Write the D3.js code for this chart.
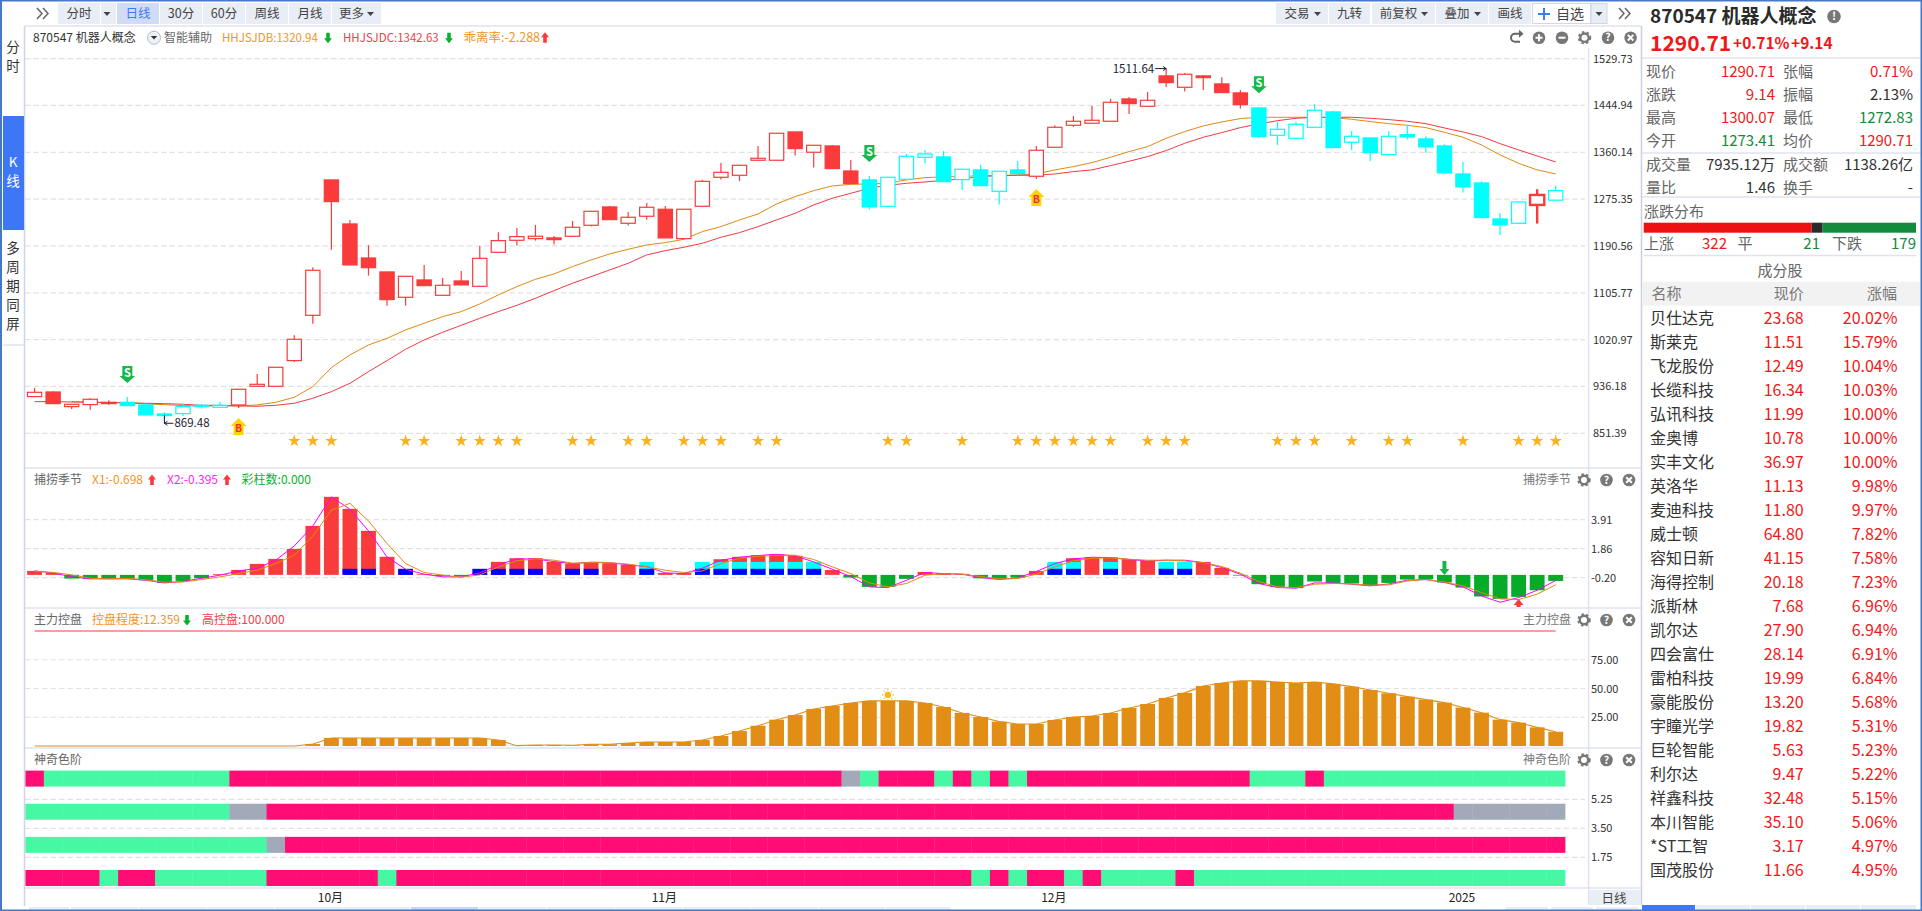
<!DOCTYPE html>
<html>
<head>
<meta charset="utf-8">
<script src="https://cdn.jsdelivr.net/npm/d3@7"></script>
<style>
html,body{margin:0;padding:0;background:#fff;overflow:hidden}
svg{display:block}
text{font-family:"Noto Sans CJK SC","Noto Sans",sans-serif}
</style>
</head>
<body>
<div id="chart"></div>
<script>
// K line data, index 0..82
const opens = [917.8,926.2,899.7,903.3,907.5,907.5,902.7,886.4,887.0,902.1,898.5,902.7,936.5,936.5,983.0,1065.0,1310.1,1230.4,1168.8,1143.5,1097.6,1129.0,1101.2,1127.2,1117.5,1179.1,1200.8,1203.8,1205.1,1208.1,1228.0,1261.2,1231.6,1244.3,1257.0,1203.8,1262.4,1314.9,1318.5,1345.7,1345.7,1397.0,1360.2,1371.6,1326.3,1310.1,1262.4,1311.3,1351.1,1351.7,1310.7,1328.2,1289.5,1328.2,1316.7,1369.2,1409.0,1412.7,1416.3,1456.7,1443.4,1498.4,1477.8,1498.4,1483.9,1467.6,1440.4,1390.9,1385.5,1405.4,1433.2,1378.3,1386.1,1355.9,1392.1,1384.3,1371.6,1320.9,1304.6,1239.4,1231.6,1264.8,1273.41]
const closes = [925.6,905.1,903.9,913.0,905.1,901.5,884.6,883.4,899.7,899.7,902.1,931.1,940.1,970.9,1021.6,1146.5,1270.8,1156.2,1151.3,1093.4,1135.6,1118.7,1119.4,1120.0,1168.2,1200.2,1207.5,1208.1,1202.0,1224.4,1253.3,1238.2,1242.5,1260.6,1205.1,1257.0,1307.6,1323.9,1336.6,1349.3,1394.6,1366.8,1372.8,1330.6,1303.4,1261.2,1314.9,1352.9,1357.1,1307.0,1329.4,1299.8,1325.8,1321.5,1363.8,1405.4,1416.3,1418.1,1450.7,1448.3,1454.3,1486.3,1501.4,1495.3,1468.2,1446.4,1388.5,1401.8,1410.8,1436.2,1368.6,1389.1,1359.5,1389.1,1387.9,1369.8,1322.7,1297.4,1241.9,1228.6,1270.2,1282.9,1290.71]
const highs = [933.5,927.4,903.9,914.8,911.1,917.2,905.7,889.4,904.5,904.5,908.1,931.1,958.8,970.9,1028.8,1151.9,1310.1,1237.6,1191.8,1143.5,1135.6,1156.2,1132.6,1145.3,1190.6,1215.3,1223.2,1228.6,1208.7,1235.8,1253.3,1263.0,1252.1,1268.4,1263.0,1257.0,1310.1,1340.8,1336.6,1371.6,1394.6,1397.0,1372.8,1373.4,1346.3,1317.3,1314.9,1357.1,1364.4,1362.6,1329.4,1337.2,1325.8,1344.4,1371.6,1409.0,1425.9,1444.0,1456.7,1460.3,1469.4,1511.64,1503.8,1500.2,1495.9,1473.0,1441.6,1415.1,1415.1,1447.7,1435.0,1398.8,1386.1,1398.8,1409.0,1388.5,1374.6,1342.6,1307.6,1249.7,1270.2,1293.2,1300.07]
const lows = [917.8,905.1,895.5,894.2,903.3,901.5,884.6,869.48,882.8,896.1,897.3,897.3,936.5,936.5,980.5,1049.9,1183.9,1156.2,1136.9,1082.5,1082.5,1118.7,1101.2,1120.0,1117.5,1179.1,1191.2,1200.2,1193.0,1208.1,1225.6,1238.2,1227.4,1238.2,1205.1,1203.8,1262.4,1310.7,1308.2,1345.7,1345.7,1354.1,1332.4,1330.6,1303.4,1256.4,1262.4,1311.3,1339.6,1307.0,1292.0,1299.8,1265.4,1321.5,1311.9,1369.2,1406.0,1412.7,1416.3,1429.5,1443.4,1478.4,1470.0,1473.0,1468.2,1439.2,1386.7,1373.4,1385.5,1405.4,1368.6,1364.4,1344.4,1355.9,1383.1,1358.9,1322.7,1287.1,1241.9,1210.5,1231.6,1231.0,1272.83]
const maDB = [null,null,908.7,908.1,906.9,906.3,904.5,903.3,901.5,900.9,900.9,900.9,902.7,907.5,916.6,935.9,970.3,993.2,1011.3,1023.4,1038.5,1050.6,1062.6,1071.7,1085.6,1101.9,1116.9,1130.2,1139.9,1153.2,1165.2,1176.1,1184.5,1192.4,1196.6,1202.6,1216.5,1225.6,1237.6,1248.5,1266.6,1279.9,1290.7,1299.2,1302.2,1302.8,1304.0,1310.1,1314.3,1315.5,1316.1,1317.9,1317.9,1319.1,1320.9,1328.2,1334.2,1341.4,1351.1,1361.4,1370.4,1385.5,1397.6,1407.8,1415.1,1421.1,1423.5,1423.5,1423.5,1423.5,1422.9,1419.9,1415.7,1412.0,1409.0,1404.8,1396.4,1387.3,1373.4,1355.3,1340.2,1328.2,1320.94]
const maDC = [908.7,908.7,908.1,907.5,906.9,906.9,905.7,905.1,903.9,902.1,902.1,900.9,900.3,902.1,905.7,914.8,926.8,941.9,963.0,983.0,1003.5,1020.4,1034.3,1046.9,1059.6,1071.7,1083.1,1095.8,1109.7,1123.0,1135.0,1147.1,1159.2,1174.3,1182.1,1188.2,1195.4,1206.3,1214.7,1225.6,1237.6,1249.7,1264.8,1276.9,1285.9,1295.0,1300.4,1304.0,1306.4,1309.4,1311.9,1316.1,1317.9,1318.5,1318.5,1320.9,1325.1,1328.2,1336.0,1343.9,1352.3,1363.2,1376.4,1387.3,1395.8,1404.8,1411.4,1417.4,1421.7,1423.5,1423.5,1423.5,1421.7,1419.3,1416.3,1412.0,1404.2,1397.0,1388.5,1375.8,1364.4,1353.5,1342.63]
// [red?, run length]
const trendRuns = [[1,5],[0,6],[1,34],[0,9],[1,12],[0,15],[1,1],[0,1]]
const selectedIdx = 81
const starIdx = [14,15,16,20,21,23,24,25,26,29,30,32,33,35,36,37,39,40,46,47,50,53,54,55,56,57,58,60,61,62,67,68,69,71,73,74,77,80,81,82]
const sellIdx = [5,45,66]
const buyIdx = [11,54]
const lowIdx = 7
const highIdx = 61
const priceTicks = [1529.73,1444.94,1360.14,1275.35,1190.56,1105.77,1020.97,936.18,851.39]

// 捕捞季节
const seasonBars = [.28,.14,-.26,-.28,-.28,-.26,-.38,-.57,-.43,-.24,.05,.35,.78,1.13,1.84,3.47,5.53,4.68,3.12,1.28,.28,.05,-.09,-.09,.14,.92,1.18,1.18,.92,.80,.87,.83,.71,.59,.14,.14,.47,1.11,1.28,1.39,1.46,1.35,.92,.35,-.19,-.85,-.85,-.28,.21,.12,.07,-.24,-.28,-.19,.28,.80,1.18,1.23,1.23,1.11,.99,.92,.92,.92,.50,-.05,-.66,-.85,-.94,-.47,-.57,-.61,-.76,-.57,-.33,-.31,-.54,-.90,-1.53,-1.70,-1.56,-1.09,-.43]
const seasonX1 = [.26,.17,0,-.24,-.28,-.24,-.35,-.52,-.50,-.33,-.14,.09,.33,.80,1.39,2.76,4.58,5.07,3.82,2.22,.80,.17,-.02,-.17,0,.57,1.01,1.13,1.04,.83,.87,.87,.76,.57,.33,.17,.28,.80,1.18,1.32,1.39,1.39,1.09,.57,.09,-.57,-.85,-.61,-.02,.09,.05,-.12,-.28,-.26,.05,.57,.99,1.18,1.20,1.11,1.04,1.04,.99,.87,.59,.12,-.47,-.85,-.90,-.66,-.61,-.64,-.73,-.71,-.43,-.33,-.50,-.78,-1.25,-1.70,-1.75,-1.37,-.698]
const seasonX2 = [.28,.14,-.14,-.28,-.28,-.28,-.38,-.57,-.47,-.24,-.02,.28,.47,1.04,2.05,3.47,5.53,4.65,3.12,1.27,.40,.05,-.14,-.14,.14,.71,1.13,1.13,.94,.80,.90,.87,.71,.59,.14,.09,.47,1.04,1.25,1.37,1.46,1.35,.92,.40,-.12,-.85,-.90,-.38,.17,.09,.05,-.19,-.33,-.21,.24,.80,1.13,1.25,1.23,1.09,.99,1.04,1.04,.87,.52,.05,-.61,-.90,-.94,-.57,-.57,-.66,-.78,-.64,-.38,-.33,-.54,-.85,-1.49,-1.94,-1.61,-1.09,-.395]
const blueIdx = [17,18,20,24,25,26,27,29,30,33,36,37,38,39,40,41,42,55,56,58,61,62]
const cyanIdx = [33,36,37,38,39,40,41,42,55,56,58,61,62]
const blueLevel = .43
const cyanLevel = .92
const seasonTicks = [3.91,1.86,-.20]

// 主力控盘
const controlBars = [0,0,0,0,0,0,0,0,0,0,0,0,0,0,0,1.7,7,7,7,7,7,7,7,7,7,5.2,.3,.9,.9,.6,1.5,1.5,2.6,3.5,3.5,3.5,5.2,8.7,13,17.6,22.9,26.9,32.2,34.8,37.4,39.2,39.2,39.2,37.4,33.9,28.7,25.2,21.2,19.1,19.1,22.6,25.2,26.1,28.7,33.1,36.5,41.8,46.2,52.2,54.8,56.6,56.6,55.7,54.8,55.7,54,51.6,48.7,45.8,42.9,40.3,37.7,33.4,29,22.9,20.3,16.2,12.359]
const highControl = 100
const controlTicks = [75,50,25]
const sunIdx = 46
const seasonSellIdx = 76
const seasonBuyIdx = 80

// 神奇色阶, [state, run length]: 1 pink, 0 mint, 2 grey
const stepRows = [
  {level:6.5, runs:[[1,1],[0,10],[1,33],[2,1],[0,1],[1,3],[0,1],[1,1],[0,1],[1,1],[0,1],[1,12],[0,3],[1,1],[0,13]]},
  {level:4.5, runs:[[0,11],[2,2],[1,64],[2,6]]},
  {level:2.5, runs:[[0,13],[2,1],[1,69]]},
  {level:.5, runs:[[1,4],[0,1],[1,2],[0,6],[1,6],[0,1],[1,31],[0,1],[1,1],[0,1],[1,2],[0,1],[1,1],[0,4],[1,1],[0,20]]}
]
const stepTicks = [5.25,3.50,1.75]
const timeLabels = [[16,"10月"],[34,"11月"],[55,"12月"],[77,"2025"]]

// side panel
const quoteRows = [
  ["现价","1290.71","up","张幅","0.71%","up",71.7],
  ["涨跌","9.14","up","振幅","2.13%","flat",94.7],
  ["最高","1300.07","up","最低","1272.83","down",117.7],
  ["今开","1273.41","down","均价","1290.71","up",140.7],
  ["成交量","7935.12万","flat","成交额","1138.26亿","flat",164.7],
  ["量比","1.46","flat","换手","-","flat",188]
]
const breadthCounts = [322,21,179]
const stockNames = ["贝仕达克","斯莱克","飞龙股份","长缆科技","弘讯科技","金奥博","实丰文化","英洛华","麦迪科技","威士顿","容知日新","海得控制","派斯林","凯尔达","四会富仕","雷柏科技","豪能股份","宇瞳光学","巨轮智能","利尔达","祥鑫科技","本川智能","*ST工智","国茂股份"]
const stockPrices = ["23.68","11.51","12.49","16.34","11.99","10.78","36.97","11.13","11.80","64.80","41.15","20.18","7.68","27.90","28.14","19.99","13.20","19.82","5.63","9.47","32.48","35.10","3.17","11.66"]
const stockChanges = ["20.02%","15.79%","10.04%","10.03%","10.00%","10.00%","10.00%","9.98%","9.97%","7.82%","7.58%","7.23%","6.96%","6.94%","6.91%","6.84%","5.68%","5.31%","5.23%","5.22%","5.15%","5.06%","4.97%","4.95%"]

const W = 1922, H = 911
const red = "#f93b3b", cyan = "#00ffff", lineCol = "#dfe3ee"
const txtCol = {up:"#f01818",down:"#128a3c",flat:"#333"}

const svg = d3.select("#chart").append("svg").attr("width",W).attr("height",H)

function label(g,x,y,s,size,fill,anchor,weight){
  return g.append("text").attr("x",x).attr("y",y).attr("dy","0.36em")
    .attr("font-size",size).attr("fill",fill)
    .attr("text-anchor",anchor||"start").attr("font-weight",weight||400).text(s)
}
function expand(runs){
  const out = []
  runs.forEach(r => { for(let i=0;i<r[1];i++) out.push(r[0]) })
  return out
}
function smallArrow(g,x,y,up,col){
  const s = up?1:-1
  g.append("path").attr("fill",col)
    .attr("d",`M${x},${y-5.5*s} L${x+4},${y-0.5*s} L${x+1.8},${y-0.5*s} L${x+1.8},${y+5*s} L${x-1.8},${y+5*s} L${x-1.8},${y-0.5*s} L${x-4},${y-0.5*s}Z`)
}
function hline(x1,x2,y,col,w){
  svg.append("line").attr("x1",x1).attr("x2",x2).attr("y1",y).attr("y2",y)
    .attr("stroke",col||lineCol).attr("stroke-width",w||1.5)
}
function vline(x,y1,y2,col,w){
  svg.append("line").attr("x1",x).attr("x2",x).attr("y1",y1).attr("y2",y2)
    .attr("stroke",col||lineCol).attr("stroke-width",w||1.5)
}
function iconSet(g,xs,y,kinds){
  kinds.forEach((k,i) => {
    const c = g.append("g").attr("transform",`translate(${xs[i]},${y})`)
    if(k==="back"){
      c.append("path").attr("fill","none").attr("stroke","#666").attr("stroke-width",2)
       .attr("d","M5,-4 H-1 A3.5,3.5 0 0 0 -1,4 H4")
      c.append("path").attr("fill","#666").attr("d","M3,-8 L7.5,-4 L3,0Z")
      return
    }
    if(k==="gear"){
      c.append("circle").attr("r",4.2).attr("fill","none").attr("stroke","#777").attr("stroke-width",2.4)
      c.append("circle").attr("r",5.8).attr("fill","none").attr("stroke","#777").attr("stroke-width",1.8).attr("stroke-dasharray","2.4 2.4")
      return
    }
    c.append("circle").attr("r",6.3).attr("fill","#777")
    const t = {plus:"M-3.5,0H3.5M0,-3.5V3.5",minus:"M-3.5,0H3.5",close:"M-2.8,-2.8L2.8,2.8M2.8,-2.8L-2.8,2.8"}[k]
    if(t) c.append("path").attr("d",t).attr("stroke","#fff").attr("stroke-width",2)
    if(k==="help") label(c,0,0,"?",10.5,"#fff","middle",700)
  })
}

// shared x scale, one band per trading day
const days = d3.range(opens.length)
const xBand = d3.scaleBand().domain(days).range([25.3,1565]).paddingInner(0.2).paddingOuter(0.1)
const cx = i => xBand(i) + xBand.bandwidth()/2
const cellX = d3.scaleLinear().domain([0,days.length]).range([25.3,1565])

const yPrice = d3.scaleLinear().domain([851.39,1529.73]).range([433.3,58.6])
const ySeason = d3.scaleLinear().domain([-.20,3.91]).range([577.7,519.7])
const yControl = d3.scaleLinear().domain([0,100]).range([746,631])
const yStep = d3.scaleLinear().domain([1.75,5.25]).range([857.3,799.3])

function grid(scale,ticks){
  svg.append("g").selectAll("line").data(ticks).join("line")
    .attr("x1",25).attr("x2",1585)
    .attr("y1",d=>scale(d)).attr("y2",d=>scale(d))
    .attr("stroke","#e2e2e2").attr("stroke-width",1.2).attr("stroke-dasharray","5.5 3")
}
function rightAxis(scale,ticks,x){
  const g = svg.append("g").attr("transform",`translate(${x},0)`)
    .call(d3.axisRight(scale).tickValues(ticks).tickSize(0).tickPadding(0).tickFormat(d=>d.toFixed(2)))
  g.select(".domain").remove()
  g.selectAll("text").attr("font-size",11).attr("fill","#333").attr("font-family",'"Noto Sans CJK SC"')
}
grid(yPrice,priceTicks); grid(ySeason,seasonTicks); grid(yControl,controlTicks); grid(yStep,stepTicks)
rightAxis(yPrice,priceTicks,1593)
rightAxis(ySeason,seasonTicks,1591)
rightAxis(yControl,controlTicks,1591)
rightAxis(yStep,stepTicks,1591)

// moving average lines
const lineFor = y => d3.line().defined(d=>d!==null).x((d,i)=>cx(i)).y(d=>y(d))
svg.append("path").datum(maDB).attr("d",lineFor(yPrice)).attr("fill","none").attr("stroke","#e08a12").attr("stroke-width",1)
svg.append("path").datum(maDC).attr("d",lineFor(yPrice)).attr("fill","none").attr("stroke","#f03a45").attr("stroke-width",1)

// candles
const trend = expand(trendRuns)
const candle = svg.append("g").selectAll("g").data(days).join("g")
const candleCol = i => trend[i] ? red : cyan
const strokeW = i => i===selectedIdx ? 2.4 : 1.2
candle.append("line")
  .attr("x1",cx).attr("x2",cx).attr("y1",i=>yPrice(highs[i])).attr("y2",i=>yPrice(lows[i]))
  .attr("stroke",candleCol).attr("stroke-width",strokeW)
candle.append("rect")
  .attr("x",i=>xBand(i)+0.3).attr("width",xBand.bandwidth()-0.6)
  .attr("y",i=>yPrice(Math.max(opens[i],closes[i])))
  .attr("height",i=>Math.max(1,Math.abs(yPrice(opens[i])-yPrice(closes[i]))))
  .attr("fill",i=>closes[i]>=opens[i] ? "#fff" : candleCol(i))
  .attr("stroke",candleCol).attr("stroke-width",strokeW)

// buy / sell marks
sellIdx.forEach(i => {
  const g = svg.append("g").attr("transform",`translate(${cx(i)},${yPrice(highs[i])-14})`)
  g.append("path").attr("fill","#14b84c").attr("d","M0,0 L-7.8,-7 L-5,-7 L-5,-17 L5,-17 L5,-7 L7.8,-7Z")
  label(g,0,-10,"S",11,"#fff","middle",700)
})
buyIdx.forEach(i => {
  const g = svg.append("g").attr("transform",`translate(${cx(i)},${yPrice(lows[i])+10})`)
  g.append("path").attr("fill","#ffd400").attr("d","M0,0 L-8,8 L-5,8 L-5,17 L5,17 L5,8 L8,8Z")
  label(g,0,10,"B",10.5,"#f03030","middle",700)
})

// extreme price labels
const lowY = yPrice(lows[lowIdx]), highY = yPrice(highs[highIdx])
svg.append("path").attr("fill","none").attr("stroke","#223").attr("d",`M${cx(lowIdx)},${lowY-8} V${lowY} H${cx(lowIdx)+9} M${cx(lowIdx)+3},${lowY-2} L${cx(lowIdx)},${lowY} L${cx(lowIdx)+3},${lowY+2}`)
label(svg,cx(lowIdx)+10,lowY,lows[lowIdx].toFixed(2),11.5,"#223")
svg.append("path").attr("fill","none").attr("stroke","#223").attr("d",`M${cx(highIdx)-11},${highY} H${cx(highIdx)} M${cx(highIdx)-3},${highY-2} L${cx(highIdx)},${highY} L${cx(highIdx)-3},${highY+2}`)
label(svg,cx(highIdx)-12,highY,highs[highIdx].toFixed(2),11.5,"#223","end")

// stars
const starPath = d3.symbol().type(d3.symbolStar).size(46)()
svg.append("g").selectAll("path").data(starIdx).join("path")
  .attr("d",starPath).attr("fill","#fbb117")
  .attr("transform",i=>`translate(${cx(i)},441)`)

// season panel bars
const seasonG = svg.append("g")
seasonG.selectAll("rect.base").data(days).join("rect").attr("class","base")
  .attr("x",i=>xBand(i)).attr("width",xBand.bandwidth())
  .attr("y",i=>Math.min(ySeason(seasonBars[i]),ySeason(0)))
  .attr("height",i=>Math.abs(ySeason(seasonBars[i])-ySeason(0)))
  .attr("fill",i=>seasonBars[i]>=0 ? red : "#05ab29")
seasonG.selectAll("rect.cy").data(cyanIdx).join("rect").attr("class","cy")
  .attr("x",i=>xBand(i)).attr("width",xBand.bandwidth())
  .attr("y",ySeason(cyanLevel)).attr("height",ySeason(0)-ySeason(cyanLevel)).attr("fill",cyan)
seasonG.selectAll("rect.bl").data(blueIdx).join("rect").attr("class","bl")
  .attr("x",i=>xBand(i)).attr("width",xBand.bandwidth())
  .attr("y",ySeason(blueLevel)).attr("height",ySeason(0)-ySeason(blueLevel)).attr("fill","#0000ff")
svg.append("path").datum(seasonX2).attr("d",lineFor(ySeason)).attr("fill","none").attr("stroke","#ff00ff").attr("stroke-width",1)
svg.append("path").datum(seasonX1).attr("d",lineFor(ySeason)).attr("fill","none").attr("stroke","#e08a12").attr("stroke-width",1)
// season arrows
svg.append("path").attr("fill","#14b84c")
  .attr("transform",`translate(${cx(seasonSellIdx)},${ySeason(0)})`)
  .attr("d","M0,0 L-5,-6 L-2,-6 L-2,-14 L2,-14 L2,-6 L5,-6Z")
svg.append("path").attr("fill","#f93b3b")
  .attr("transform",`translate(${cx(seasonBuyIdx)},${ySeason(seasonBars[seasonBuyIdx])+8})`)
  .attr("d","M0,-6 L-5,0 L-2,0 L-2,2 L2,2 L2,0 L5,0Z")

// control panel
svg.append("line").attr("x1",cx(0)).attr("x2",cx(days.length-1))
  .attr("y1",yControl(highControl)).attr("y2",yControl(highControl))
  .attr("stroke",red).attr("stroke-width",1.2)
svg.append("g").selectAll("rect").data(days).join("rect")
  .attr("x",i=>xBand(i)).attr("width",xBand.bandwidth())
  .attr("y",i=>yControl(controlBars[i])).attr("height",i=>yControl(0)-yControl(controlBars[i]))
  .attr("fill","#e28e16")
svg.append("path").datum(controlBars).attr("d",lineFor(yControl)).attr("fill","none").attr("stroke","#e28e16").attr("stroke-width",1.1)
const sun = svg.append("g").attr("transform",`translate(${cx(sunIdx)},${yControl(controlBars[sunIdx])-6})`)
sun.append("circle").attr("r",3.2).attr("fill","#fbb90f")
d3.range(8).forEach(k => {
  const a = k*Math.PI/4
  sun.append("line").attr("x1",4.4*Math.cos(a)).attr("y1",4.4*Math.sin(a))
    .attr("x2",6*Math.cos(a)).attr("y2",6*Math.sin(a)).attr("stroke","#fbb90f")
})

// step rows
const stepCol = {1:"#ff0d75",0:"#46f8a3",2:"#a2aab9"}
stepRows.forEach(row => {
  const cells = expand(row.runs)
  svg.append("g").selectAll("rect").data(cells).join("rect")
    .attr("x",(d,i)=>cellX(i)).attr("width",(d,i)=>cellX(i+1)-cellX(i)+0.4)
    .attr("y",yStep(row.level)-8).attr("height",16)
    .attr("fill",d=>stepCol[d])
})

// time axis
timeLabels.forEach(t => label(svg,cx(t[0])-1,898,t[1],12,"#222","middle"))

// panel frame lines
hline(25,1641,26); hline(25,1641,468); hline(25,1641,608); hline(25,1641,748); hline(25,1641,888)
vline(24.5,26,906,"#ccd4e6"); vline(1588.6,48,905); vline(1641.5,26,905,"#c9d0e2")

// headers on the chart
const hdr = svg.append("g")
label(hdr,33,37.7,"870547 机器人概念",12,"#333")
hdr.append("circle").attr("cx",154).attr("cy",37.7).attr("r",6.5).attr("fill","#eef2f8").attr("stroke","#aebbd0")
hdr.append("path").attr("d","M150.8,36 H157.2 L154,39.5Z").attr("fill","#333")
label(hdr,164,37.7,"智能辅助",12,"#666")
label(hdr,222,37.7,"HHJSJDB:"+maDB[82].toFixed(2),11.5,"#f0941f")
smallArrow(hdr,328,37.7,false,"#0ab02e")
label(hdr,343,37.7,"HHJSJDC:"+maDC[82].toFixed(2),11.5,"#f2404a")
smallArrow(hdr,449,37.7,false,"#0ab02e")
label(hdr,463.5,37.7,"乖离率:-2.288",12.5,"#f0941f")
smallArrow(hdr,545,37.7,true,"#f93b3b")

label(hdr,34,480,"捕捞季节",12,"#666")
label(hdr,92,480,"X1:"+seasonX1[82].toFixed(3),12,"#f0941f")
smallArrow(hdr,152,480,true,"#f93b3b")
label(hdr,167,480,"X2:"+seasonX2[82].toFixed(3),12,"#ff22ff")
smallArrow(hdr,227,480,true,"#f93b3b")
label(hdr,241.6,480,"彩柱数:0.000",12,"#0ab02e")

label(hdr,34,620,"主力控盘",12,"#666")
label(hdr,92,620,"控盘程度:"+controlBars[82].toFixed(3),12,"#f0941f")
smallArrow(hdr,187,620,false,"#0ab02e")
label(hdr,202,620,"高控盘:"+highControl.toFixed(3),12,"#f2404a")

label(hdr,34,760,"神奇色阶",12,"#666")
label(hdr,1571,480,"捕捞季节",12,"#777","end")
label(hdr,1571,620,"主力控盘",12,"#777","end")
label(hdr,1571,760,"神奇色阶",12,"#777","end")

iconSet(hdr,[1516,1539,1562,1584.5,1608,1630.6],37.7,["back","plus","minus","gear","help","close"])
iconSet(hdr,[1584,1606.5,1629],480,["gear","help","close"])
iconSet(hdr,[1584,1606.5,1629],620,["gear","help","close"])
iconSet(hdr,[1584,1606.5,1629],760,["gear","help","close"])

// toolbar
const btnLeft = [["分时",58,100],["",101,116],["日线",117,159,true],["30分",160,202],["60分",203,245],["周线",246,288],["月线",289,331],["更多",332,381]]
const btnRight = [["交易",1276,1328],["九转",1329,1370],["前复权",1372,1435],["叠加",1436,1488],["画线",1489,1531]]
const bar = svg.append("g")
btnLeft.concat(btnRight).forEach(b => {
  bar.append("rect").attr("x",b[1]).attr("y",3).attr("width",b[2]-b[1]).attr("height",21).attr("fill",b[3]?"#d0dbf5":"#e9edf5")
  const hasDrop = ["更多","交易","前复权","叠加"].includes(b[0])
  if(b[0]) label(bar,(b[1]+b[2])/2-(hasDrop?5:0),13.5,b[0],12.5,b[3]?"#3b7cf5":"#444","middle")
  if(hasDrop) bar.append("path").attr("d",`M${b[2]-14},12 h7 l-3.5,4z`).attr("fill","#444")
})
bar.append("path").attr("d","M103.5,12 h7 l-3.5,4z").attr("fill","#444")
const chevron = x => bar.append("path").attr("fill","none").attr("stroke","#666").attr("stroke-width",1.5)
  .attr("d",`M${x-6},8 L${x-1},13.5 L${x-6},19 M${x},8 L${x+5},13.5 L${x},19`)
chevron(43); chevron(1625)
bar.append("rect").attr("x",1532.5).attr("y",3.5).attr("width",58).attr("height",20).attr("fill","#fff").attr("stroke","#cfd8ea")
bar.append("path").attr("d","M1538,14H1550M1544,8V20").attr("stroke","#3b7cf5").attr("stroke-width",2)
label(bar,1556,13.5,"自选",14,"#444")
bar.append("rect").attr("x",1591).attr("y",3.5).attr("width",16).attr("height",20).attr("fill","#e9edf5").attr("stroke","#cfd8ea")
bar.append("path").attr("d","M1595.5,12 h7 l-3.5,4z").attr("fill","#444")

// left rail
const rail = svg.append("g")
rail.append("rect").attr("x",3).attr("y",116).attr("width",21).attr("height",114).attr("fill","#3d77f5")
;[["分",47],["时",66]].forEach(c => label(rail,13,c[1],c[0],13.5,"#333","middle"))
;[["K",162],["线",181]].forEach(c => label(rail,13,c[1],c[0],13.5,"#fff","middle"))
;[["多",248],["周",267],["期",286],["同",305],["屏",324]].forEach(c => label(rail,13,c[1],c[0],13.5,"#333","middle"))
hline(3,24,345)

// bottom strip
const tabs = [[29,69],[71,138],[139,206],[207,274],[275,342],[343,410],[411,478,1],[479,546],[547,614],[615,682],[683,750],[751,818],[819,885],[886,950],[1506,1548],[1551,1593],[1596,1638]]
svg.append("g").selectAll("rect").data(tabs).join("rect")
  .attr("x",d=>d[0]).attr("y",907).attr("width",d=>d[1]-d[0]).attr("height",3)
  .attr("fill",d=>d[2]?"#c9d6f3":"#e9edf5")
svg.append("rect").attr("x",1589).attr("y",890).attr("width",52).attr("height",15).attr("fill","#e9edf5")
label(svg,1614,898,"日线",12.5,"#444","middle")
const sideTabs = [[1642,1695,"#3d77f5"],[1696,1750,"#e9edf5"],[1751,1805,"#e9edf5"],[1806,1860,"#e9edf5"],[1861,1916,"#e9edf5"]]
svg.append("g").selectAll("rect").data(sideTabs).join("rect")
  .attr("x",d=>d[0]).attr("y",905).attr("width",d=>d[1]-d[0]).attr("height",5).attr("fill",d=>d[2])

// side panel
const side = svg.append("g")
label(side,1650,16.5,"870547 机器人概念",19,"#2a2a2a","start",700)
side.append("circle").attr("cx",1834).attr("cy",16.5).attr("r",6.8).attr("fill","#777")
label(side,1834,16,"!",11,"#fff","middle",700)
label(side,1650,43,"1290.71",21,"#f01818","start",700)
label(side,1733,43.5,"+0.71%",15.5,"#f01818","start",700)
label(side,1791,43.5,"+9.14",15.5,"#f01818","start",700)
hline(1642,1921,58)

quoteRows.forEach(r => {
  label(side,1646,r[6],r[0],15,"#666")
  label(side,1775,r[6],r[1],15,txtCol[r[2]],"end")
  label(side,1783,r[6],r[3],15,"#666")
  label(side,1913,r[6],r[4],15,txtCol[r[5]],"end")
})
hline(1642,1921,153); hline(1642,1921,197)

label(side,1644,211.7,"涨跌分布",15,"#666")
const xBreadth = d3.scaleLinear().domain([0,d3.sum(breadthCounts)]).range([1643.7,1916])
const stack = d3.cumsum(breadthCounts)
side.append("g").selectAll("rect").data(breadthCounts).join("rect")
  .attr("x",(d,i)=>xBreadth(stack[i]-d)).attr("width",d=>xBreadth(d)-xBreadth(0))
  .attr("y",222.7).attr("height",10)
  .attr("fill",(d,i)=>["#ee1111","#2b2b2b","#138a3c"][i])
label(side,1644,244,"上涨",15,"#666")
label(side,1727,244,breadthCounts[0],15,txtCol.up,"end")
label(side,1737.6,244,"平",15,"#666")
label(side,1820,244,breadthCounts[1],15,txtCol.down,"end")
label(side,1832,244,"下跌",15,"#666")
label(side,1916,244,breadthCounts[2],15,txtCol.down,"end")
hline(1644,1916,255.6)

label(side,1780,270.7,"成分股",15,"#666","middle")
side.append("rect").attr("x",1642).attr("y",281.7).attr("width",278).attr("height",24).attr("fill","#f2f2f2")
label(side,1651.4,294,"名称",15,"#777")
label(side,1803.7,294,"现价",15,"#777","end")
label(side,1897,294,"涨幅",15,"#777","end")

const yRow = d3.scaleLinear().domain([0,23]).range([318.3,870.3])
stockNames.forEach((n,i) => {
  label(side,1650,yRow(i),n,16,"#333")
  label(side,1803.7,yRow(i),stockPrices[i],16,txtCol.up,"end")
  label(side,1897.5,yRow(i),stockChanges[i],16,txtCol.up,"end")
})

// window edge
svg.append("rect").attr("x",0).attr("y",0).attr("width",W).attr("height",1.5).attr("fill","#4678c8")
svg.append("rect").attr("x",0).attr("y",0).attr("width",2).attr("height",H).attr("fill","#4678c8")
svg.append("rect").attr("x",0).attr("y",H-1.5).attr("width",W).attr("height",1.5).attr("fill","#4678c8")
svg.append("rect").attr("x",W-1.5).attr("y",0).attr("width",1.5).attr("height",H).attr("fill","#4678c8")
</script>
</body>
</html>
